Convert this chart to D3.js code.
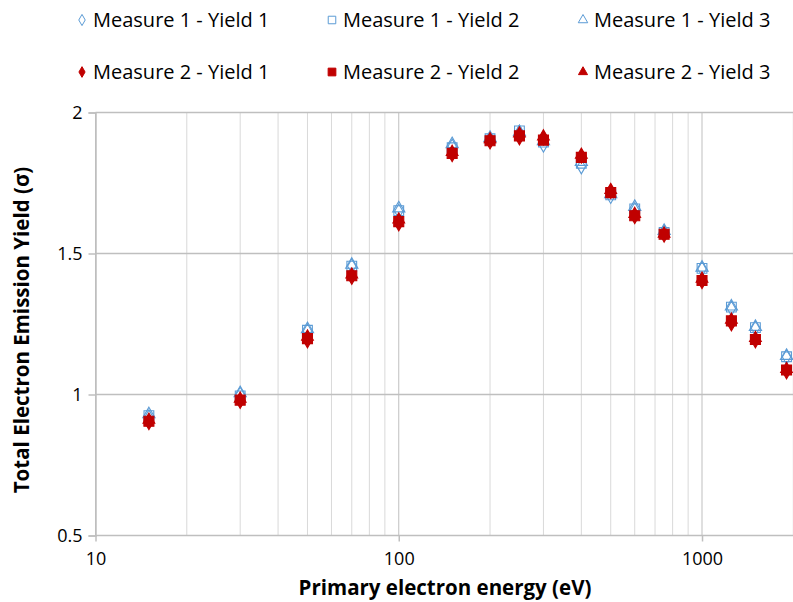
<!DOCTYPE html>
<html>
<head>
<meta charset="utf-8">
<script src="https://cdn.jsdelivr.net/npm/d3@7"></script>
<style>
  html, body { margin: 0; padding: 0; background: #fff; }
  svg { display: block; }
  text { font-family: "Open Sans", "Noto Sans", sans-serif; fill: #000; }
</style>
</head>
<body>
<svg id="chart" width="793" height="602"></svg>
<script>
// ---- data ----
const energies = [15, 30, 50, 70, 100, 150, 200, 250, 300, 400, 500, 600, 750, 1000, 1250, 1500, 1900];
const m1y1 = [0.920, 1.000, 1.225, 1.455, 1.650, 1.880, 1.905, 1.930, 1.885, 1.808, 1.703, 1.655, 1.575, 1.445, 1.305, 1.235, 1.133];
const m1y2 = [0.925, 0.995, 1.228, 1.455, 1.652, 1.875, 1.907, 1.935, 1.895, 1.820, 1.708, 1.658, 1.575, 1.447, 1.310, 1.237, 1.134];
const m1y3 = [0.930, 1.005, 1.232, 1.460, 1.660, 1.888, 1.910, 1.930, 1.898, 1.825, 1.710, 1.665, 1.580, 1.450, 1.312, 1.240, 1.137];
const m2y1 = [0.900, 0.975, 1.190, 1.415, 1.605, 1.850, 1.895, 1.910, 1.910, 1.845, 1.720, 1.630, 1.565, 1.400, 1.250, 1.190, 1.080];
const m2y2 = [0.905, 0.980, 1.198, 1.421, 1.613, 1.855, 1.900, 1.917, 1.902, 1.841, 1.716, 1.634, 1.568, 1.404, 1.261, 1.195, 1.087];
const m2y3 = [0.910, 0.985, 1.205, 1.425, 1.620, 1.860, 1.905, 1.925, 1.915, 1.850, 1.725, 1.640, 1.570, 1.410, 1.265, 1.200, 1.090];
const seriesNames = ["Measure 1 - Yield 1", "Measure 1 - Yield 2", "Measure 1 - Yield 3",
                     "Measure 2 - Yield 1", "Measure 2 - Yield 2", "Measure 2 - Yield 3"];
const xTickValues = [10, 100, 1000];
const yTickValues = [0.5, 1, 1.5, 2];
const xTitle = "Primary electron energy (eV)";
const yTitle = "Total Electron Emission Yield (σ)";

// ---- styles ----
const blue = "#5b9bd5";
const red = "#c00000";
const series = [
  { name: seriesNames[0], values: m1y1, shape: d3.symbolDiamond, size: 60, fill: "#fff", stroke: blue },
  { name: seriesNames[1], values: m1y2, shape: d3.symbolSquare, size: 95, fill: "none", stroke: blue },
  { name: seriesNames[2], values: m1y3, shape: d3.symbolTriangle, size: 65, fill: "none", stroke: blue },
  { name: seriesNames[3], values: m2y1, shape: d3.symbolDiamond, size: 55, fill: red, stroke: red },
  { name: seriesNames[4], values: m2y2, shape: d3.symbolSquare, size: 100, fill: red, stroke: red },
  { name: seriesNames[5], values: m2y3, shape: d3.symbolTriangle, size: 60, fill: red, stroke: red }
];

const svg = d3.select("#chart");
const mLeft = 95.5, mRight = 793.3, mTop = 112.5, mBottom = 535.5;

const x = d3.scaleLog().domain([10, 2000]).range([mLeft, mRight]);
const y = d3.scaleLinear().domain([0.5, 2]).range([mBottom, mTop]);

// minor vertical gridlines
const minor = [];
for (let d = 10; d < 2000; d *= 10) for (let k = 2; k <= 9; k++) if (d * k <= 2000) minor.push(d * k);
svg.append("g").selectAll("line").data(minor).join("line")
  .attr("x1", d => x(d)).attr("x2", d => x(d))
  .attr("y1", mTop).attr("y2", mBottom)
  .attr("stroke", "#d9d9d9").attr("stroke-width", 1);

// major vertical gridlines
svg.append("g").selectAll("line").data(xTickValues).join("line")
  .attr("x1", d => x(d)).attr("x2", d => x(d))
  .attr("y1", mTop).attr("y2", mBottom)
  .attr("stroke", "#bfbfbf").attr("stroke-width", 1);

// horizontal gridlines
svg.append("g").selectAll("line").data(yTickValues).join("line")
  .attr("x1", mLeft).attr("x2", mRight)
  .attr("y1", d => y(d)).attr("y2", d => y(d))
  .attr("stroke", "#bfbfbf").attr("stroke-width", 1.5);

// axes
const xAxis = svg.append("g").attr("transform", `translate(0,${mBottom})`)
  .call(d3.axisBottom(x).tickValues(xTickValues).tickFormat(d3.format("d")).tickSize(6).tickPadding(8));
const yAxis = svg.append("g").attr("transform", `translate(${mLeft},0)`)
  .call(d3.axisLeft(y).tickValues(yTickValues).tickFormat(d => String(d)).tickSize(7).tickPadding(6));
[xAxis, yAxis].forEach(a => {
  a.attr("font-family", "Open Sans").attr("font-size", 18);
  a.select(".domain").attr("stroke", "#bfbfbf").attr("stroke-width", 1.5);
  a.selectAll(".tick line").attr("stroke", "#bfbfbf").attr("stroke-width", 1.5);
  a.selectAll(".tick text").attr("fill", "#000");
});
xAxis.select(".domain").remove();
xAxis.selectAll(".tick text").attr("dy", "0.85em");

// points
series.forEach(s => {
  svg.append("g").selectAll("path").data(energies.map((e, i) => [e, s.values[i]])).join("path")
    .attr("transform", d => `translate(${x(d[0])},${y(d[1])})`)
    .attr("d", d3.symbol().type(s.shape).size(s.size))
    .attr("fill", s.fill).attr("stroke", s.stroke).attr("stroke-width", 1.1);
});

// legend
const legCols = [82, 332, 583];
const legRows = [20, 72];
series.forEach((s, i) => {
  const cx = legCols[i % 3], cy = legRows[Math.floor(i / 3)];
  svg.append("path").attr("transform", `translate(${cx},${cy})`)
    .attr("d", d3.symbol().type(s.shape).size(s.size * 0.6))
    .attr("fill", s.fill).attr("stroke", s.stroke).attr("stroke-width", 1);
  svg.append("text").attr("x", cx + 11).attr("y", cy).attr("dy", "0.35em")
    .attr("font-size", 20).text(s.name);
});

// titles
svg.append("text").attr("x", 445).attr("y", 588).attr("dy", "0.35em")
  .attr("text-anchor", "middle").attr("font-weight", "bold").attr("font-size", 20.5).text(xTitle);
svg.append("text").attr("transform", "translate(22,330) rotate(-90)").attr("dy", "0.35em")
  .attr("text-anchor", "middle").attr("font-weight", "bold").attr("font-size", 20.5).text(yTitle);
</script>
</body>
</html>
